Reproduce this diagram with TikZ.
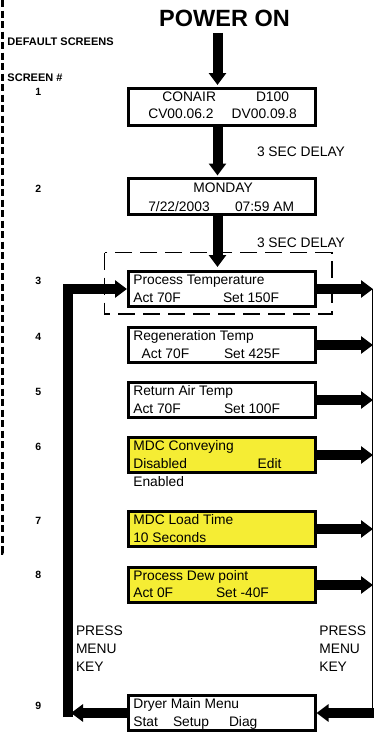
\documentclass[tikz,border=0pt]{standalone}
\usepackage{fontspec}
\setmainfont{Liberation Sans}
\usetikzlibrary{arrows.meta}
\definecolor{lcdyellow}{RGB}{245,237,52}
\begin{document}
\begin{tikzpicture}[x=1pt,y=-1pt,
  scr/.style={draw, line width=3pt, outer sep=1.5pt, inner sep=0pt, minimum width=186.5pt, minimum height=35pt, anchor=north west},
  ylw/.style={fill=lcdyellow},
  txt/.style={anchor=base west, inner sep=0pt, outer sep=0pt, font=\fontsize{13.8}{16}\selectfont},
  lbl/.style={anchor=base, inner sep=0pt, outer sep=0pt, font=\fontsize{10.5}{12}\selectfont\bfseries},
  hdr/.style={anchor=base west, inner sep=0pt, outer sep=0pt, font=\fontsize{11}{12}\selectfont\bfseries},
  bigarrow/.style={line width=10pt, -{Triangle[width=17pt,length=12pt]}},
  thin/.style={line width=1.5pt}
]
\useasboundingbox (0,0) rectangle (374,732);

% left dashed line
\draw[line width=3pt, dash pattern=on 7pt off 3.5pt] (2.5,0) -- (2.5,553) -- (5.5,553);

% headings
\node[anchor=base, inner sep=0pt, font=\fontsize{23.5}{26}\selectfont\bfseries] (pw) at (224.5,26) {POWER ON};
\node[hdr] (ds) at (7.5,45.7) {DEFAULT SCREENS};
\node[hdr] (sn) at (7.5,81.7) {SCREEN \#};

% coordinates
\coordinate (ax) at (217.5,0);
\coordinate (ex) at (373,0);
\coordinate (rx) at (372.5,0);
\coordinate (rs) at (374,0);
\coordinate (lx) at (68.3,0);
\coordinate (lb) at (68.3,717);
\coordinate (lt) at (71,0);

% dashed group around screen 3
\draw[line width=1.3pt, dash pattern=on 17pt off 8pt] (104.5,252.7) rectangle (332,314);

% screens
\node[scr, minimum height=37pt] (b1) at (127,86.5) {};
\node[scr, minimum height=36pt] (b2) at (127,177) {};
\node[scr] (b3) at (127,270) {};
\node[scr] (b4) at (127,326) {};
\node[scr] (b5) at (127,381) {};
\node[scr, ylw] (b6) at (127,436) {};
\node[scr, ylw] (b7) at (127,510) {};
\node[scr, ylw] (b8) at (127,566) {};
\node[scr] (b9) at (127,694) {};

% screen texts
\node[txt] (t1a) at (162.3,101) {CONAIR};
\node[txt] (t1b) at (256,101) {D100};
\node[txt] (t1c) at (148.3,118.5) {CV00.06.2};
\node[txt] (t1d) at (231.7,118.5) {DV00.09.8};
\node[txt] (t2a) at (193.3,192) {MONDAY};
\node[txt] (t2b) at (148.3,211.5) {7/22/2003};
\node[txt] (t2c) at (235,211.5) {07:59 AM};
\node[txt] (t3a) at (133.3,284.5) {Process Temperature};
\node[txt] (t3b) at (133.3,302.5) {Act 70F};
\node[txt] (t3c) at (223,302.5) {Set 150F};
\node[txt] (t4a) at (133.3,340.5) {Regeneration Temp};
\node[txt] (t4b) at (141.7,358) {Act 70F};
\node[txt] (t4c) at (224,358) {Set 425F};
\node[txt] (t5a) at (133.3,395.5) {Return Air Temp};
\node[txt] (t5b) at (133.3,413) {Act 70F};
\node[txt] (t5c) at (224,413) {Set 100F};
\node[txt] (t6a) at (133.3,450.5) {MDC Conveying};
\node[txt] (t6b) at (133.3,468.5) {Disabled};
\node[txt] (t6c) at (257.7,468.5) {Edit};
\node[txt] (t6d) at (133.3,486.7) {Enabled};
\node[txt] (t7a) at (133.3,524.5) {MDC Load Time};
\node[txt] (t7b) at (133.3,542.5) {10 Seconds};
\node[txt] (t8a) at (133.3,580.5) {Process Dew point};
\node[txt] (t8b) at (133.3,597.5) {Act 0F};
\node[txt] (t8c) at (216,597.5) {Set -40F};
\node[txt] (t9a) at (133.3,708.8) {Dryer Main Menu};
\node[txt] (t9b) at (133.3,726.5) {Stat};
\node[txt] (t9c) at (173,726.5) {Setup};
\node[txt] (t9d) at (229,726.5) {Diag};

% screen numbers
\node[lbl] (n1) at (38.3,95) {1};
\node[lbl] (n2) at (38.3,192) {2};
\node[lbl] (n3) at (38.3,284) {3};
\node[lbl] (n4) at (38.3,340) {4};
\node[lbl] (n5) at (38.3,395) {5};
\node[lbl] (n6) at (38.3,450.7) {6};
\node[lbl] (n7) at (38.3,524) {7};
\node[lbl] (n8) at (38.3,578.5) {8};
\node[lbl] (n9) at (38.3,709) {9};

% delay labels
\node[txt] (d1) at (257,156) {3 SEC DELAY};
\node[txt] (d2) at (257,247.3) {3 SEC DELAY};

% press menu key labels
\node[txt] (pl1) at (76,635) {PRESS};
\node[txt] (pl2) at (76,653) {MENU};
\node[txt] (pl3) at (76,671) {KEY};
\node[txt] (pr1) at (319.3,635) {PRESS};
\node[txt] (pr2) at (319.3,653) {MENU};
\node[txt] (pr3) at (319.3,671) {KEY};

% vertical arrows
\draw[bigarrow, shorten <=6.5pt, shorten >=1.5pt] (pw.south -| ax) -- (b1.north -| ax);
\draw[bigarrow, shorten >=1.5pt] (b1.south -| ax) -- (b2.north -| ax);
\draw[bigarrow, shorten >=3pt] (b2.south -| ax) -- (b3.north -| ax);

% right arrows
\foreach \b in {b3,b4,b5,b6,b7,b8}{
  \draw[bigarrow] (\b.east) -- (ex |- \b.east);
}
\draw[thin] (rx |- b3.east) -- (rx |- b9.east);
\draw[bigarrow] (rs |- b9.east) -- (b9.east);

% left return arrow
\draw[bigarrow] (lb) -- (lx |- b3.west) -- (b3.west);
\draw[bigarrow] (b9.west) -- (lt |- b9.west);
\end{tikzpicture}
\end{document}
